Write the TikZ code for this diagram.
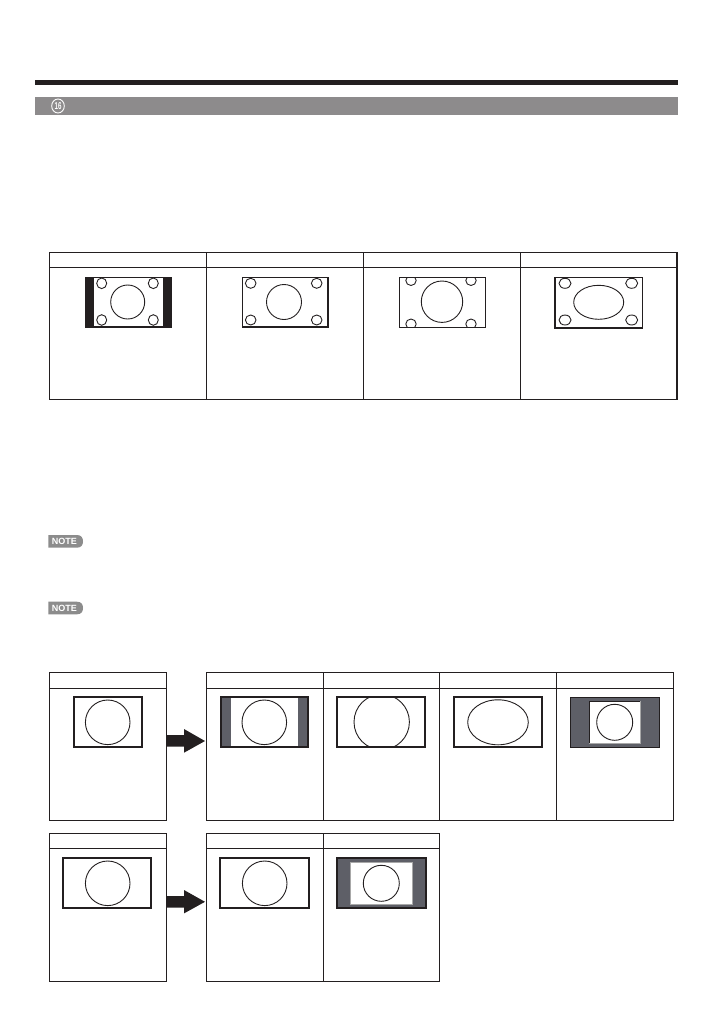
\documentclass[tikz,border=0pt]{standalone}
\usepackage{fontspec}
\setmainfont{Liberation Sans}
\definecolor{bargray}{HTML}{8D8B8C}
\definecolor{notegray}{HTML}{8C8C8C}
\definecolor{panelgray}{HTML}{5E5F67}
\definecolor{inkblack}{HTML}{231F20}
\definecolor{rimgray}{HTML}{A8A8A8}
\begin{document}
\begin{tikzpicture}[x=1pt,y=-1pt,
  tbl/.style={draw=inkblack, line width=1.1pt},
  box/.style={draw=inkblack, line width=1.1pt, inner sep=0pt, outer sep=0pt, anchor=north west},
  thinframe/.style={draw=inkblack, line width=1pt},
  heavyframe/.style={draw=inkblack, line width=1.8pt},
  shp/.style={draw=inkblack, line width=0.9pt},
  blockarrow/.style={fill=inkblack},
  notebadge/.style={fill=notegray},
  notetext/.style={text=white, font=\fontsize{9}{9}\selectfont\bfseries, inner sep=0pt}
]
\useasboundingbox (0,0) rectangle (727,1033);

% ---- header bars ----
\fill[inkblack] (35,79.5) rectangle (678,85);
\fill[bargray] (35,97) rectangle (678,115);
\draw[white, line width=0.9pt] (58,106) ellipse[x radius=6.3pt, y radius=7pt];
\node[text=white, font=\fontsize{10}{10}\selectfont\bfseries, inner sep=0pt] (num) at (58,106.4) {\scalebox{0.62}[1]{16}};

% ---- top table ----
\node[box, minimum width=627.7pt, minimum height=147pt] (toptable) at (49.3,252.3) {};
\draw[tbl] (49.3,267.5) -- (677,267.5);
\draw[tbl] (206.7,252.3) -- (206.7,399.3);
\draw[tbl] (363.5,252.3) -- (363.5,399.3);
\draw[tbl] (520.3,252.3) -- (520.3,399.3);

% thumbnail 1 (black side bars)
\fill[inkblack] (85,277) rectangle (172,328);
\fill[white] (94,278.3) rectangle (162.5,326.2);
\draw[shp] (127.7,302) circle[radius=17pt];
\foreach \p in {(101.7,283.3),(153.3,283.3),(101.7,320),(153.3,320)}
  \draw[shp] \p ellipse[x radius=5pt, y radius=5.3pt];

% thumbnail 2
\draw[thinframe] (242.3,277.3) rectangle (328,326.7);
\draw[inkblack, line width=1.6pt] (242.3,326.7) -- (328,326.7) -- (328,277.3);
\draw[shp] (284,302) circle[radius=17.5pt];
\foreach \p in {(250.7,283.3),(316.7,283.3),(250.7,320),(316.7,320)}
  \draw[shp] \p ellipse[x radius=5.3pt, y radius=5pt];

% thumbnail 3 (clipped corners)
\begin{scope}
  \clip (399.3,277.3) rectangle (485.3,327.3);
  \draw[shp] (442,301.7) circle[radius=20.7pt];
  \foreach \p in {(411,280.5),(471,280.5),(411,324),(471,324)}
    \draw[shp] \p ellipse[x radius=5.2pt, y radius=5pt];
\end{scope}
\draw[thinframe] (399.3,277.3) rectangle (485.3,327.3);
\draw[inkblack, line width=1.6pt] (399.3,327.3) -- (485.3,327.3);

% thumbnail 4 (stretched)
\draw[thinframe] (555,277) rectangle (642.7,327.7);
\draw[inkblack, line width=1.6pt] (555,277) -- (555,327.7) -- (642.7,327.7);
\draw[shp] (598.7,302.3) ellipse[x radius=25pt, y radius=17pt];
\foreach \p in {(565,283.3),(631.7,283.3),(565,320),(631.7,320)}
  \draw[shp] \p ellipse[x radius=6pt, y radius=5pt];

% ---- NOTE badges ----
\fill[notebadge] (48.3,535) -- (77,535) .. controls (81.5,535) and (83,538) .. (83,541.3) .. controls (83,544.7) and (81.5,547.7) .. (77,547.7) -- (48.3,547.7) -- cycle;
\node[notetext] (note1) at (64.3,541.6) {NOTE};
\fill[notebadge] (48.3,601.7) -- (77,601.7) .. controls (81.5,601.7) and (83,604.7) .. (83,608) .. controls (83,611.3) and (81.5,614.3) .. (77,614.3) -- (48.3,614.3) -- cycle;
\node[notetext] (note2) at (64.3,608.3) {NOTE};

% ---- bottom row 1 ----
\node[box, minimum width=117.4pt, minimum height=148.4pt] (inbox1) at (49.3,672.3) {};
\draw[tbl] (49.3,688.3) -- (166.7,688.3);
\draw[heavyframe] (74.3,697.3) rectangle (141.7,747.3);
\draw[shp] (107.7,722.3) circle[radius=22.3pt];

\node[box, minimum width=466.6pt, minimum height=148.4pt] (outtable1) at (206.7,672.3) {};
\draw[tbl] (206.7,688.3) -- (673.3,688.3);
\foreach \x in {323.3,439.3,556.7} \draw[tbl] (\x,672.3) -- (\x,820.7);

\coordinate (a1s) at (166.7,741);
\coordinate (a1e) at (205,741);
\fill[blockarrow] (a1s) ++(0,-6) -- ++(17.3,0) -- ++(0,-6) -- (a1e) -- ++(-21,11.7) -- ++(0,-6) -- ++(-17.3,0) -- cycle;

% A: side bars
\fill[panelgray] (220.7,697.3) rectangle (230.7,747.3);
\fill[panelgray] (298.3,697.3) rectangle (308.3,747.3);
\draw[heavyframe] (220.7,697.3) rectangle (308.3,747.3);
\draw[shp] (264.3,722.3) circle[radius=22.3pt];

% B: zoomed circle clipped
\begin{scope}
  \clip (337.3,697.3) rectangle (425.3,747.3);
  \draw[shp] (381.7,722) circle[radius=27.7pt];
\end{scope}
\draw[heavyframe] (337.3,697.3) rectangle (425.3,747.3);

% C: stretched ellipse
\draw[heavyframe] (454.3,697.3) rectangle (542.3,747.3);
\draw[shp] (498,722.3) ellipse[x radius=30.3pt, y radius=22.5pt];

% D: gray surround
\fill[panelgray] (570.7,697.3) rectangle (659.3,747.7);
\draw[inkblack, line width=1pt] (570.7,697.3) rectangle (659.3,747.7);
\fill[white] (589.3,701.7) rectangle (640,743.3);
\draw[rimgray, line width=0.8pt] (589.3,701.7) rectangle (640,743.3);
\draw[inkblack, line width=0.8pt] (589.3,743.3) -- (589.3,701.7) -- (640,701.7);
\draw[shp] (614.7,722.3) circle[radius=18pt];

% ---- bottom row 2 ----
\node[box, minimum width=117.4pt, minimum height=148.4pt] (inbox2) at (49.3,833.3) {};
\draw[tbl] (49.3,848.3) -- (166.7,848.3);
\draw[heavyframe] (63.3,858.3) rectangle (151.3,908.3);
\draw[shp] (107.7,883.3) circle[radius=22.3pt];

\node[box, minimum width=232.6pt, minimum height=148.4pt] (outtable2) at (206.7,833.3) {};
\draw[tbl] (206.7,848.3) -- (439.3,848.3);
\draw[tbl] (323.3,833.3) -- (323.3,981.7);

\coordinate (a2s) at (166.7,901.8);
\coordinate (a2e) at (205,901.8);
\fill[blockarrow] (a2s) ++(0,-5.8) -- ++(17.3,0) -- ++(0,-6) -- (a2e) -- ++(-21,11.6) -- ++(0,-5.8) -- ++(-17.3,0) -- cycle;

% E
\draw[heavyframe] (220.3,858.3) rectangle (308.7,908.3);
\draw[shp] (264.7,883.3) circle[radius=22.3pt];

% F
\fill[panelgray] (337.3,858.3) rectangle (425.7,908.3);
\draw[heavyframe] (337.3,858.3) rectangle (425.7,908.3);
\fill[white] (350.3,862.3) rectangle (412.3,904.3);
\draw[rimgray, line width=1pt] (350.3,862.3) rectangle (412.3,904.3);
\draw[shp] (381.3,883.3) circle[radius=18pt];
\end{tikzpicture}
\end{document}
